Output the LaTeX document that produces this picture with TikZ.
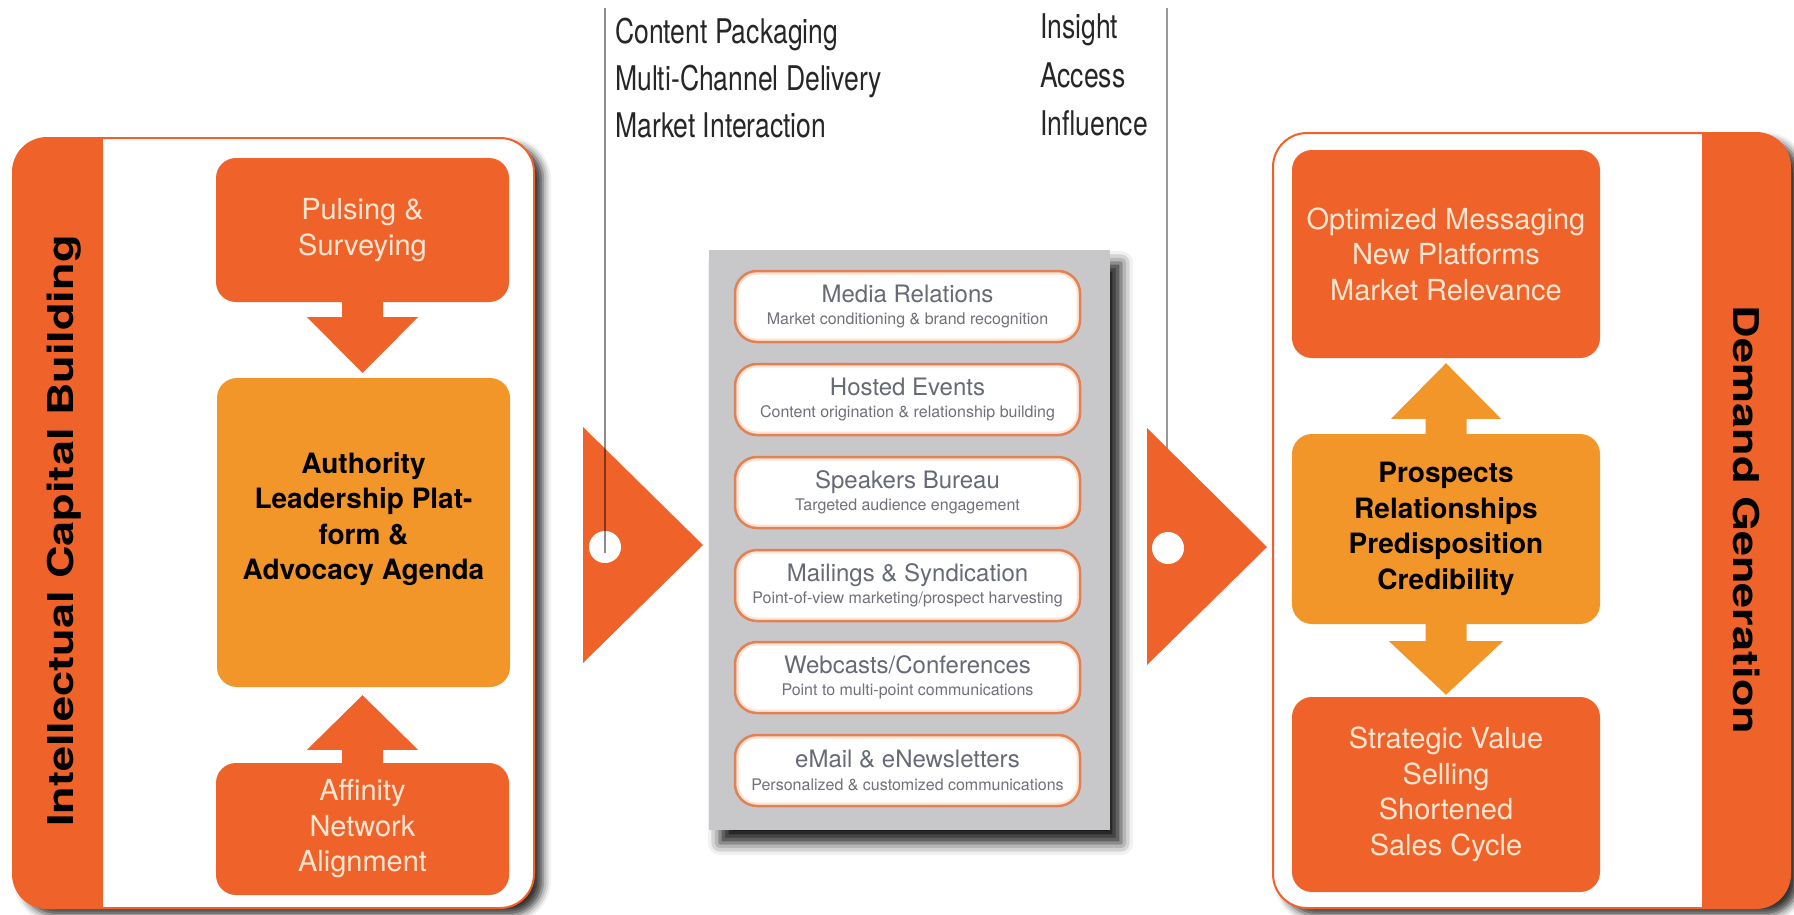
\documentclass[tikz,border=0pt]{standalone}
\usepackage{fontspec}
\setmainfont{TeX Gyre Heros}
\newfontfamily\condfont[FakeStretch=0.78]{TeX Gyre Heros}
\newfontfamily\widefont[FakeStretch=1.27]{TeX Gyre Heros}
\usetikzlibrary{shadows.blur}
\definecolor{orD}{RGB}{239,98,42}
\definecolor{orL}{RGB}{243,150,42}
\definecolor{cream}{RGB}{252,230,210}
\definecolor{panelgray}{RGB}{200,200,202}
\definecolor{slate}{RGB}{102,106,118}
\definecolor{subgray}{RGB}{112,112,120}
\definecolor{boxedge}{RGB}{226,128,86}
\definecolor{peach}{RGB}{252,228,212}
\definecolor{topink}{RGB}{38,38,38}
\begin{document}
\begin{tikzpicture}[x=1pt,y=-1pt,
  outerpanel/.style={fill=white, rounded corners=34pt,
    blur shadow={shadow xshift=9pt, shadow yshift=-7pt, shadow blur radius=8pt, shadow opacity=80}},
  panelborder/.style={draw=orD, line width=2pt, rounded corners=34pt},
  sidelabel/.style={font=\widefont\bfseries\fontsize{35.5}{40}\selectfont, text=black, inner sep=0pt},
  darkbox/.style={fill=orD, rounded corners=20pt, text=cream, align=center,
    font=\fontsize{29}{35.5}\selectfont, inner sep=0pt},
  lightbox/.style={fill=orL, rounded corners=20pt, text=black, align=center,
    font=\bfseries\fontsize{28}{35.5}\selectfont, inner sep=0pt},
  chanbox/.style={fill=white, draw=boxedge, line width=2.5pt, rounded corners=22pt,
    minimum width=345pt, minimum height=71pt, inner sep=0pt, align=center,
    font=\fontsize{16}{22.5}\selectfont, text=subgray,
    path picture={\draw[peach, line width=7pt, rounded corners=22pt]
      (path picture bounding box.north west) rectangle (path picture bounding box.south east);}},
  toptext/.style={anchor=base west, inner sep=0pt, text=topink,
    font=\condfont\fontsize{34}{40}\selectfont},
  hole/.style={circle, fill=white, minimum size=32pt, inner sep=0pt},
  guide/.style={draw=black, draw opacity=0.45, line width=2.5pt}
]
\useasboundingbox (0,0) rectangle (1794,914);

% ---------------- left panel ----------------
\path[outerpanel] (13,138) rectangle (534,908);
\begin{scope}
  \clip[rounded corners=34pt] (13,138) rectangle (534,908);
  \fill[orD] (13,138) rectangle (103,908);
\end{scope}
\draw[panelborder] (13,138) rectangle (534,908);
\node[sidelabel, rotate=90] (icb) at (64,531) {Intellectual Capital Building};

\node[darkbox, minimum width=293pt, minimum height=144pt] (puls) at (362.5,230) {Pulsing \&\\Surveying};
\node[lightbox, minimum width=293pt, minimum height=309pt] (auth) at (363.5,532.5) {};
\node[lightbox, fill=none] (autht) at (363.5,519) {Authority\\Leadership Plat-\\form \&\\Advocacy Agenda};
\node[darkbox, minimum width=293pt, minimum height=132pt] (affin) at (362.5,829) {Affinity\\Network\\Alignment};

% down arrow pulsing -> authority
\fill[orD] ([xshift=-20.5pt]puls.south) -- ([xshift=-20.5pt,yshift=-15pt]puls.south)
  -- ([xshift=-55.5pt,yshift=-15pt]puls.south) -- ([xshift=-1pt,yshift=5pt]auth.north)
  -- ([xshift=55.5pt,yshift=-15pt]puls.south) -- ([xshift=20.5pt,yshift=-15pt]puls.south)
  -- ([xshift=20.5pt]puls.south) -- cycle;
% up arrow affinity -> authority
\fill[orD] ([xshift=-20.5pt]affin.north) -- ([xshift=-20.5pt,yshift=13pt]affin.north)
  -- ([xshift=-55.5pt,yshift=13pt]affin.north) -- ([xshift=-1pt,yshift=-8pt]auth.south)
  -- ([xshift=55.5pt,yshift=13pt]affin.north) -- ([xshift=20.5pt,yshift=13pt]affin.north)
  -- ([xshift=20.5pt]affin.north) -- cycle;

% ---------------- middle ----------------
\coordinate (ltop) at (605,8);
\coordinate (rtop) at (1167,8);

\node[toptext] (t1) at (615,43) {Content Packaging};
\node[toptext] (t2) at (615,90) {Multi-Channel Delivery};
\node[toptext] (t3) at (615,137) {Market Interaction};
\node[toptext] (t4) at (1040,38) {Insight};
\node[toptext] (t5) at (1040,87) {Access};
\node[toptext] (t6) at (1040,135) {Influence};

% left pointer
\fill[orD] (583,427) -- (583,663) -- (703,545) -- cycle;
\node[hole] (lc) at (605,547) {};
\draw[guide] (ltop) -- ([yshift=-6pt]lc.center);

% right pointer
\draw[guide, line width=2pt, draw opacity=0.4] (rtop) -- (1167,470);
\fill[orD] (1147,428) -- (1147,665) -- (1267,547) -- cycle;
\node[hole] (rc) at (1168,548) {};

% gray panel
\path[fill=panelgray, blur shadow={shadow xshift=11pt, shadow yshift=-13pt, shadow blur radius=12pt, shadow opacity=90}]
  (709,250) rectangle (1110,830);

\node[chanbox] (c1) at (907.5,306.5) {{\fontsize{24}{24}\selectfont\color{slate}Media Relations}\\Market conditioning \& brand recognition};
\node[chanbox] (c2) at (907.5,399.5) {{\fontsize{24}{24}\selectfont\color{slate}Hosted Events}\\Content origination \& relationship building};
\node[chanbox] (c3) at (907.5,492.5) {{\fontsize{24}{24}\selectfont\color{slate}Speakers Bureau}\\Targeted audience engagement};
\node[chanbox] (c4) at (907.5,585.5) {{\fontsize{24}{24}\selectfont\color{slate}Mailings \& Syndication}\\Point-of-view marketing/prospect harvesting};
\node[chanbox] (c5) at (907.5,677.5) {{\fontsize{24}{24}\selectfont\color{slate}Webcasts/Conferences}\\Point to multi-point communications};
\node[chanbox] (c6) at (907.5,770.5) {{\fontsize{24}{24}\selectfont\color{slate}eMail \& eNewsletters}\\Personalized \& customized communications};

% ---------------- right panel ----------------
\path[outerpanel] (1273,133) rectangle (1790,908);
\begin{scope}
  \clip[rounded corners=34pt] (1273,133) rectangle (1790,908);
  \fill[orD] (1702,133) rectangle (1790,908);
\end{scope}
\draw[panelborder] (1273,133) rectangle (1790,908);
\node[sidelabel, rotate=-90] (dg) at (1746,520) {Demand Generation};

\node[darkbox, minimum width=308pt, minimum height=208pt] (opt) at (1446,254) {Optimized Messaging\\New Platforms\\Market Relevance};
\node[lightbox, minimum width=308pt, minimum height=190pt] (pros) at (1446,529) {Prospects\\Relationships\\Predisposition\\Credibility};
\node[darkbox, minimum width=308pt, minimum height=195pt] (strat) at (1446,794.5) {Strategic Value\\Selling\\Shortened\\Sales Cycle};

% double arrow
\fill[orL] ([xshift=-20.5pt]pros.north) -- ([xshift=-20.5pt,yshift=15pt]pros.north)
  -- ([xshift=-55pt,yshift=15pt]pros.north) -- ([yshift=-5pt]opt.south)
  -- ([xshift=55pt,yshift=15pt]pros.north) -- ([xshift=20.5pt,yshift=15pt]pros.north)
  -- ([xshift=20.5pt]pros.north) -- cycle;
\fill[orL] ([xshift=-20.5pt]pros.south) -- ([xshift=-20.5pt,yshift=-17pt]pros.south)
  -- ([xshift=-57pt,yshift=-17pt]pros.south) -- ([yshift=2pt]strat.north)
  -- ([xshift=57pt,yshift=-17pt]pros.south) -- ([xshift=20.5pt,yshift=-17pt]pros.south)
  -- ([xshift=20.5pt]pros.south) -- cycle;
\end{tikzpicture}
\end{document}
